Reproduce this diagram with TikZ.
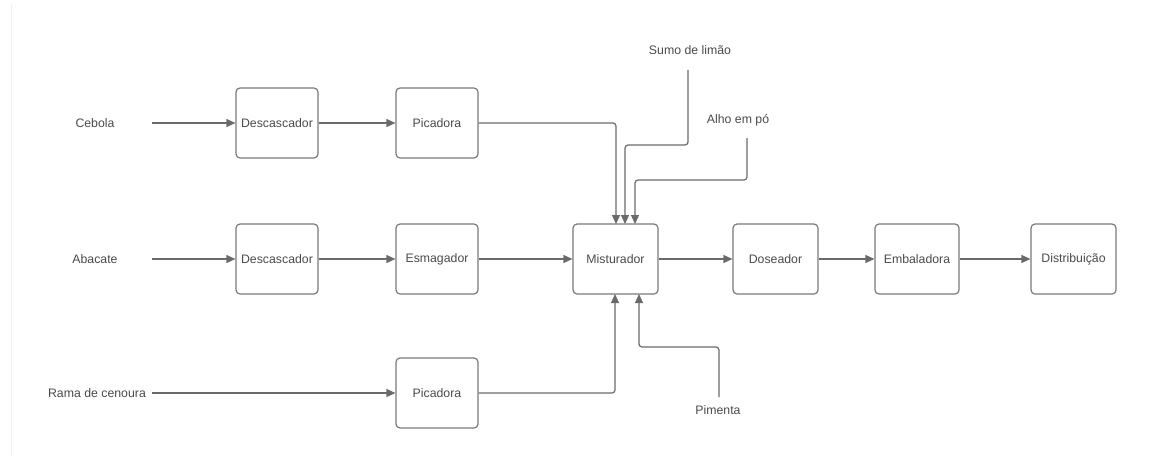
\documentclass[tikz,border=0pt]{standalone}
\usepackage{fontspec}
\setmainfont{Liberation Sans}
\usetikzlibrary{arrows.meta}
\definecolor{linec}{HTML}{6A6A6A}
\definecolor{boxc}{HTML}{7A7A7A}
\definecolor{txtc}{HTML}{4A4A4A}
\tikzset{
  proc/.style={draw=boxc, line width=1.2pt, rounded corners=4pt, minimum width=82pt, minimum height=70pt, inner sep=0pt, text=txtc, font=\fontsize{12.3}{14}\selectfont},
  lbl/.style={inner sep=0pt, text=txtc, font=\fontsize{12.3}{14}\selectfont},
  flow/.style={draw=linec, line width=1.2pt, -{Triangle[length=9pt,width=8pt]}},
  flowline/.style={draw=linec, line width=1.2pt}
}
\begin{document}
\begin{tikzpicture}[x=1pt,y=-1pt]
\useasboundingbox (0,0) rectangle (1155,459);
\draw[draw=black!6, line width=0.8pt] (11,4) -- (11,455);
% boxes
\node[proc] (d1) at (277,123) {Descascador};
\node[proc] (p1) at (437,123) {Picadora};
\node[proc] (d2) at (277,259) {Descascador};
\node[proc] (es) at (437,259) {Esmagador};
\node[proc, minimum width=85pt] (mi) at (615.5,259) {Misturador};
\node[proc, minimum width=85pt] (do) at (775.5,259) {Doseador};
\node[proc, minimum width=84pt] (em) at (917,259) {Embaladora};
\node[proc, minimum width=85pt] (di) at (1073.5,259) {Distribuição};
\node[proc] (p2) at (437,393) {Picadora};
% labels
\node[lbl] (ce) at (95,123) {Cebola};
\node[lbl] (ab) at (95,259) {Abacate};
\node[lbl] (ra) at (97,393) {Rama de cenoura};
\node[lbl] (su) at (690,50) {Sumo de limão};
\node[lbl] (al) at (738,120) {Alho em pó};
\node[lbl] (pi) at (718,410) {Pimenta};
% coordinates for free ends
\coordinate (ceE) at (152,123);
\coordinate (abE) at (152,259);
\coordinate (raE) at (152,393);
\coordinate (suS) at (688,70);
\coordinate (alS) at (747,138);
\coordinate (piS) at (719,397);
% straight flows
\draw[flow] (ceE) -- (d1.west);
\draw[flow] (d1.east) -- (p1.west);
\draw[flow] (abE) -- (d2.west);
\draw[flow] (d2.east) -- (es.west);
\draw[flow] (es.east) -- (mi.west);
\draw[flow] (mi.east) -- (do.west);
\draw[flow] (do.east) -- (em.west);
\draw[flow] (em.east) -- (di.west);
\draw[flow] (raE) -- (p2.west);
% into Misturador from top
\draw[flow, rounded corners=3pt] (p1.east) -- (616,123) -- (616,224);
\draw[flow, rounded corners=3pt] (suS) -- (688,145) -- (625,145) -- (625,224);
\draw[flow, rounded corners=3pt] (alS) -- (747,180) -- (635,180) -- (635,224);
% into Misturador from bottom
\draw[flow, rounded corners=3pt] (p2.east) -- (615,393) -- (615,294);
\draw[flow, rounded corners=3pt] (piS) -- (719,347) -- (639,347) -- (639,294);
\end{tikzpicture}
\end{document}
